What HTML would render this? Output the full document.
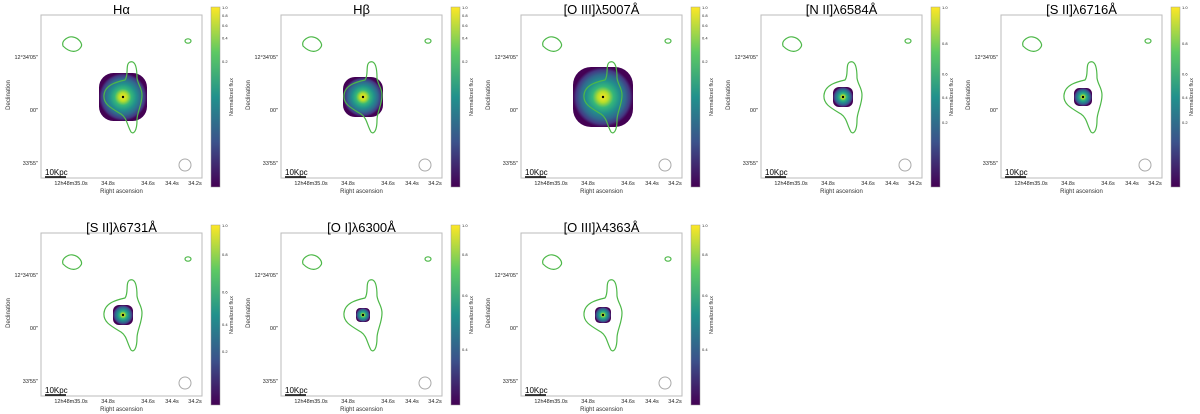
<!DOCTYPE html>
<html><head><meta charset="utf-8"><style>
body{margin:0;background:#fff;}
svg{display:block;font-family:"Liberation Sans",sans-serif;}
</style></head><body>
<svg id="fig" width="1200" height="414" viewBox="0 0 1200 414" xmlns="http://www.w3.org/2000/svg">
<defs>
<linearGradient id="viridisV" x1="0" y1="1" x2="0" y2="0">
<stop offset="0" stop-color="#440154"/><stop offset="0.25" stop-color="#3b528b"/><stop offset="0.5" stop-color="#21918c"/><stop offset="0.75" stop-color="#5ec962"/><stop offset="1" stop-color="#fde725"/>
</linearGradient>
<radialGradient id="viridisR">
<stop offset="0" stop-color="#fde725"/><stop offset="0.18" stop-color="#b5de2b"/><stop offset="0.35" stop-color="#35b779"/><stop offset="0.55" stop-color="#21918c"/><stop offset="0.75" stop-color="#31688e"/><stop offset="0.9" stop-color="#443983"/><stop offset="1" stop-color="#440154"/>
</radialGradient>
</defs>
</svg>
<script>
const titles = ["Hα","Hβ","[O III]λ5007Å","[N II]λ6584Å","[S II]λ6716Å","[S II]λ6731Å","[O I]λ6300Å","[O III]λ4363Å"];
const blobRadius = [24, 20, 30, 10, 9, 10, 7, 8];
const cbTicks = [
 ["1.0","0.8","0.6","0.4","0.2"],["1.0","0.8","0.6","0.4","0.2"],["1.0","0.8","0.6","0.4","0.2"],
 ["1.0","0.8","0.6","0.4","0.2"],["1.0","0.8","0.6","0.4","0.2"],
 ["1.0","0.8","0.6","0.4","0.2"],["1.0","0.8","0.6","0.4"],["1.0","0.8","0.6","0.4"]];
const cbTickFrac = [
 [1.0,0.956,0.9,0.83,0.7],[1.0,0.956,0.9,0.83,0.7],[1.0,0.956,0.9,0.83,0.7],
 [1.0,0.8,0.63,0.5,0.36],[1.0,0.8,0.63,0.5,0.36],[1.0,0.84,0.63,0.45,0.3],[1.0,0.84,0.61,0.31],[1.0,0.84,0.61,0.31]];
const xTicks = ["12h48m35.0s","34.8s","34.6s","34.4s","34.2s"];
const yTicks = ["12°34′05″","00″","33′55″"];

const svg = document.getElementById('fig');
const NS = "http://www.w3.org/2000/svg";
function mk(tag, attrs, parent){const e=document.createElementNS(NS,tag);for(const k in attrs)e.setAttribute(k,attrs[k]);(parent||svg).appendChild(e);return e;}
const AW=161, AH=166;
const xPos=[30,67,107,131,154], yPos=[47,100,153];
titles.forEach((t,i)=>{
  const col=i%5,row=Math.floor(i/5);
  const ox=41+col*240, oy=12+row*218;
  const g=mk('g',{transform:`translate(${ox},${oy})`});
  
  
  const box=mk('rect',{x:0,y:3,width:AW,height:AH-3,fill:'#fff',stroke:'#bbb','stroke-width':1},g);
  
  const ttl=mk('text',{x:AW/2,y:2,'text-anchor':'middle','font-size':13,fill:'#000'},g);ttl.textContent=t;
  
  const r=blobRadius[i];
  const blob=mk('rect',{x:82-r,y:85-r,width:2*r,height:2*r,rx:r*0.6,fill:'url(#viridisR)'},g);
  
  const dot=mk('circle',{cx:82,cy:85,r:1.2,fill:'#000'},g);
  
  const c=mk('path',{d:"M89,50 C95,48 96,58 96,66 C97,73 101,76 101,83 C101,93 96,100 96,108 C96,118 93,123 90,120 C86,113 86,106 80,102 C70,96 62,92 63,83 C64,73 75,70 84,68 C88,63 84,52 89,50 Z",fill:'none',stroke:'#4db848','stroke-width':1.2},g);
  
  const c2=mk('path',{d:"M22,34 C20,28 28,24 32,25 C38,26 42,32 40,35 C37,40 30,42 22,34 Z",fill:'none',stroke:'#4db848','stroke-width':1.2},g);
  
  const c3=mk('ellipse',{cx:147,cy:29,rx:3,ry:2.2,fill:'none',stroke:'#4db848','stroke-width':1.2},g);
  
  const beam=mk('circle',{cx:144,cy:153,r:6,fill:'none',stroke:'#aaa','stroke-width':1},g);
  
  const sb=mk('line',{x1:4,y1:165,x2:25,y2:165,stroke:'#000','stroke-width':1.5},g);
  
  const sbt=mk('text',{x:4,y:163,'font-size':8,fill:'#000'},g);sbt.textContent='10Kpc';
  
  xTicks.forEach((lab,k)=>{const tx=mk('text',{x:xPos[k],y:AH+7,'text-anchor':'middle','font-size':5.5,fill:'#222'},g);tx.textContent=lab;
    });
  const xl=mk('text',{x:AW/2,y:AH+15,'text-anchor':'middle','font-size':6,fill:'#333'},g);xl.textContent='Right ascension';
  
  yTicks.forEach((lab,k)=>{const ty=mk('text',{x:-3,y:yPos[k],'text-anchor':'end','font-size':5.5,fill:'#222'},g);ty.textContent=lab;
    });
  const yl=mk('text',{x:0,y:0,'text-anchor':'middle','font-size':6,fill:'#333',transform:`translate(-31,${AH/2}) rotate(-90)`},g);yl.textContent='Declination';
  
  const cbx=170, cby=-5, cbh=180, cbw=9;
  const cb=mk('rect',{x:cbx,y:cby,width:cbw,height:cbh,fill:'url(#viridisV)',stroke:'#999','stroke-width':0.5},g);
  
  cbTicks[i].forEach((lab,k)=>{const yy=cby+cbh*(1-cbTickFrac[i][k]);
    const tl=mk('text',{x:cbx+cbw+2,y:yy+2,'font-size':4,fill:'#222'},g);tl.textContent=lab;
    });
  const cl=mk('text',{x:0,y:0,'text-anchor':'middle','font-size':5.5,fill:'#333',transform:`translate(${cbx+cbw+13},${cby+cbh/2}) rotate(-90)`},g);cl.textContent='Normalized flux';
  
});
</script>
</body></html>
